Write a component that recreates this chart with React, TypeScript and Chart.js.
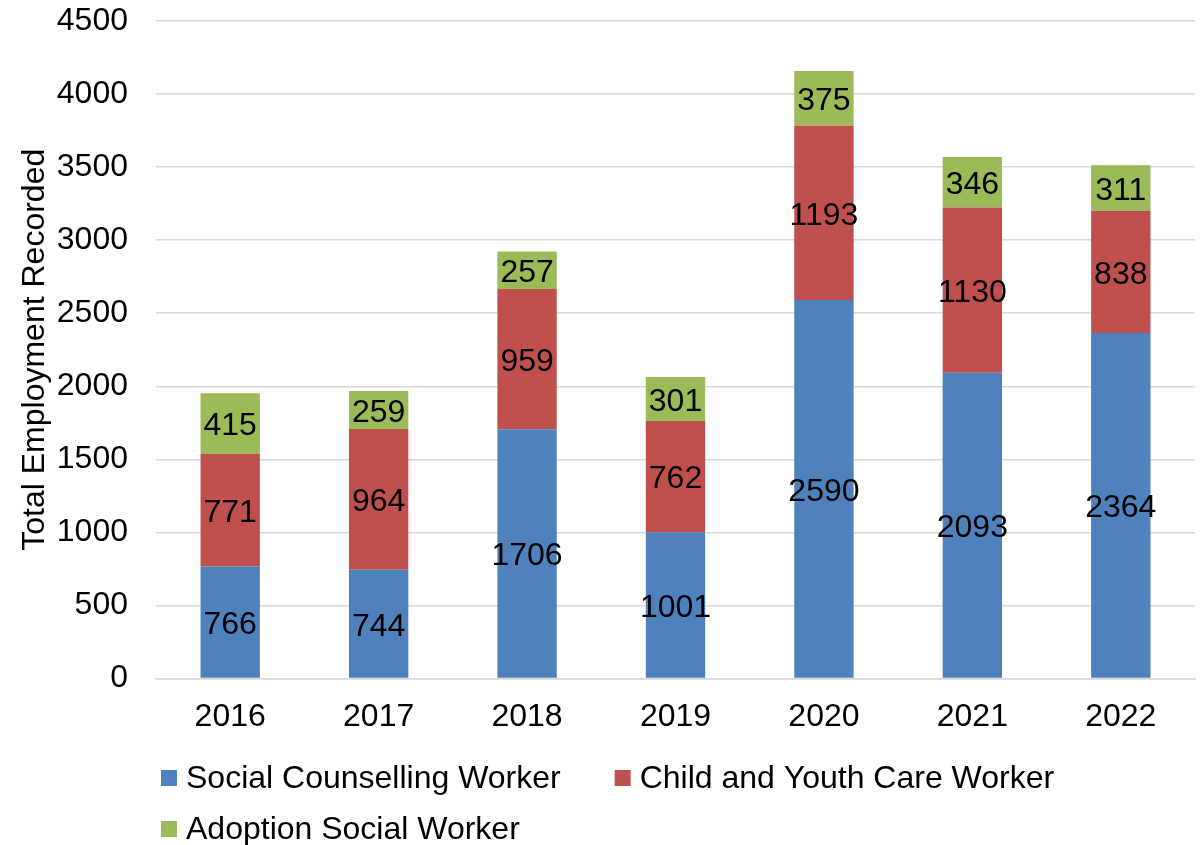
import React, { useEffect, useRef } from "react";
import { Chart, registerables } from "chart.js";

Chart.register(...registerables);

const years = ["2016", "2017", "2018", "2019", "2020", "2021", "2022"];
const socialCounselling = [766, 744, 1706, 1001, 2590, 2093, 2364];
const childYouthCare = [771, 964, 959, 762, 1193, 1130, 838];
const adoptionSocial = [415, 259, 257, 301, 375, 346, 311];
const seriesNames = ["Social Counselling Worker", "Child and Youth Care Worker", "Adoption Social Worker"];
const seriesColors = ["#4F81BD", "#C0504D", "#9BBB59"];
const yTicks = [0, 500, 1000, 1500, 2000, 2500, 3000, 3500, 4000, 4500];

const FONT = '"Liberation Sans", Arial, sans-serif';

const dataLabelPlugin = {
  id: "dataLabels",
  afterDatasetsDraw(chart: any) {
    const ctx = chart.ctx;
    ctx.save();
    ctx.font = `32px ${FONT}`;
    ctx.fillStyle = "#000000";
    ctx.textAlign = "center";
    ctx.textBaseline = "middle";
    chart.data.datasets.forEach((ds: any, di: number) => {
      const meta = chart.getDatasetMeta(di);
      meta.data.forEach((el: any, i: number) => {
        const v = ds.data[i];
        const cy = (el.y + el.base) / 2;
        ctx.fillText(String(v), el.x, cy + 3);
      });
    });
    ctx.restore();
  },
};

const legendPlugin = {
  id: "customLegend",
  afterDraw(chart: any) {
    const ctx = chart.ctx;
    const area = chart.chartArea;
    ctx.save();
    ctx.font = `32px ${FONT}`;
    ctx.textAlign = "left";
    ctx.textBaseline = "middle";
    const startX = 161;
    const row1 = area.bottom + 99.5;
    const row2 = area.bottom + 150.5;
    const box = 16;
    const positions = [
      { x: startX, y: row1 },
      { x: 0, y: row1 },
      { x: startX, y: row2 },
    ];
    const w0 = ctx.measureText(seriesNames[0]).width;
    positions[1].x = startX + 25 + w0 + 54;
    seriesNames.forEach((name, i) => {
      const p = positions[i];
      ctx.fillStyle = seriesColors[i];
      ctx.fillRect(p.x, p.y - box / 2, box, box);
      ctx.fillStyle = "#000000";
      ctx.fillText(name, p.x + 25, p.y + 1);
    });
    ctx.restore();
  },
};

export default function App() {
  const ref = useRef<HTMLCanvasElement | null>(null);
  useEffect(() => {
    if (!ref.current) return;
    const chart = new Chart(ref.current, {
      type: "bar",
      data: {
        labels: years,
        datasets: [
          { label: seriesNames[0], data: socialCounselling, backgroundColor: seriesColors[0] },
          { label: seriesNames[1], data: childYouthCare, backgroundColor: seriesColors[1] },
          { label: seriesNames[2], data: adoptionSocial, backgroundColor: seriesColors[2] },
        ],
      },
      options: {
        responsive: false,
        animation: false,
        datasets: { bar: { barPercentage: 0.4, categoryPercentage: 1 } } as any,
        layout: { padding: { left: 0, right: 8, top: 21, bottom: 96.5 } },
        plugins: {
          legend: { display: false },
          tooltip: { enabled: false },
        },
        scales: {
          x: {
            stacked: true,
            grid: { display: false, drawTicks: false },
            border: { display: true, color: "#D9D9D9", width: 1.5 },
            ticks: { color: "#000000", font: { family: FONT, size: 32 }, padding: 19 },
            afterFit: (scale: any) => {
              scale.height = 70;
            },
          },
          y: {
            stacked: true,
            min: 0,
            max: 4500,
            afterBuildTicks: (scale: any) => {
              scale.ticks = yTicks.map((v) => ({ value: v }));
            },
            grid: { color: "#D9D9D9", lineWidth: 1.5, drawTicks: false },
            border: { display: false },
            ticks: {
              color: "#000000",
              font: { family: FONT, size: 32 },
              padding: 28,
              callback: (v: any) => String(v),
            },
            title: {
              display: true,
              text: "Total Employment Recorded",
              color: "#000000",
              font: { family: FONT, size: 32 },
              padding: { top: 16, bottom: 0 },
            },
            afterFit: (scale: any) => {
              scale.width = 156;
              scale.paddingTop = 0;
              scale.paddingBottom = 0;
            },
          },
        },
      },
      plugins: [dataLabelPlugin, legendPlugin],
    });
    return () => chart.destroy();
  }, []);
  return (
    <div style={{ position: "absolute", left: 0, top: 0, width: 1203, height: 845, background: "#ffffff" }}>
      <canvas ref={ref} width={1203} height={845} style={{ display: "block" }} />
    </div>
  );
}
